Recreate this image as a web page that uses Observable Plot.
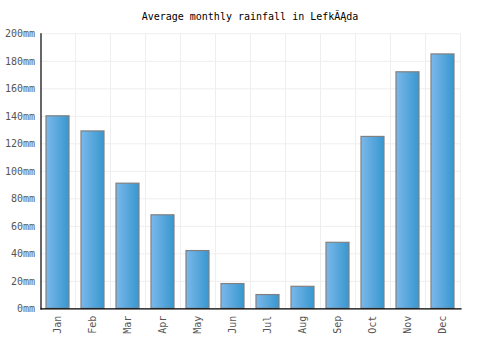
<!DOCTYPE html>
<html>
<head>
<meta charset="utf-8">
<script src="https://cdn.jsdelivr.net/npm/d3@7"></script>
<script src="https://cdn.jsdelivr.net/npm/@observablehq/plot@0.6"></script>
<style>
  body { margin: 0; background: #fff; width: 500px; height: 350px; overflow: hidden; }
  #title { height: 24px; box-sizing: border-box; padding-top: 11px; line-height: 13px; text-align: center;
           font: 10px "DejaVu Sans Mono", monospace; color: #000; white-space: nowrap; }
</style>
</head>
<body>
<div id="title"></div>
<div id="chart"></div>
<script>
const titleText = "Average monthly rainfall in LefkĂĄda";
const months = ["Jan","Feb","Mar","Apr","May","Jun","Jul","Aug","Sep","Oct","Nov","Dec"];
const rainfall = [140, 129, 91, 68, 42, 18, 10, 16, 48, 125, 172, 185];
const yTicks = [0, 20, 40, 60, 80, 100, 120, 140, 160, 180, 200];

document.getElementById("title").textContent = titleText;
const data = months.map((m, i) => ({month: m, value: rainfall[i]}));

const chart = Plot.plot({
  width: 500,
  height: 326,
  marginTop: 9.3,
  marginBottom: 41.7,
  marginLeft: 40.5,
  marginRight: 39.5,
  style: {fontFamily: "DejaVu Sans Mono, monospace", fontSize: "10px", color: "#555", background: "#fff", overflow: "visible"},
  x: {domain: months, paddingInner: 0.33, paddingOuter: 0.165, label: null},
  y: {domain: [0, 200], label: null},
  marks: [
    Plot.ruleY(yTicks, {stroke: "#eeeeee", strokeWidth: 1}),
    Plot.ruleX(months, {dx: 17.5, stroke: "#eeeeee", strokeWidth: 1}),
    Plot.barY(data, {x: "month", y: "value", fill: "url(#barGrad)", stroke: "#808080", strokeWidth: 1.2}),
    Plot.axisX({tickSize: 0, tickPadding: 7, tickRotate: -90, label: null}),
    Plot.axisY({ticks: yTicks, tickFormat: d => d + "mm", tickSize: 0, tickPadding: 6, label: null}),
    Plot.frame({anchor: "left", stroke: "#000", strokeWidth: 1.2}),
    Plot.frame({anchor: "bottom", stroke: "#000", strokeWidth: 1.2})
  ]
});

const svg = d3.select(chart);
const grad = svg.insert("defs", ":first-child").append("linearGradient")
  .attr("id", "barGrad").attr("x1", "0%").attr("x2", "100%").attr("y1", "0%").attr("y2", "0%");
grad.append("stop").attr("offset", "0%").attr("stop-color", "#7bb8ea");
grad.append("stop").attr("offset", "100%").attr("stop-color", "#3797cf");

document.getElementById("chart").appendChild(chart);
</script>
</body>
</html>
